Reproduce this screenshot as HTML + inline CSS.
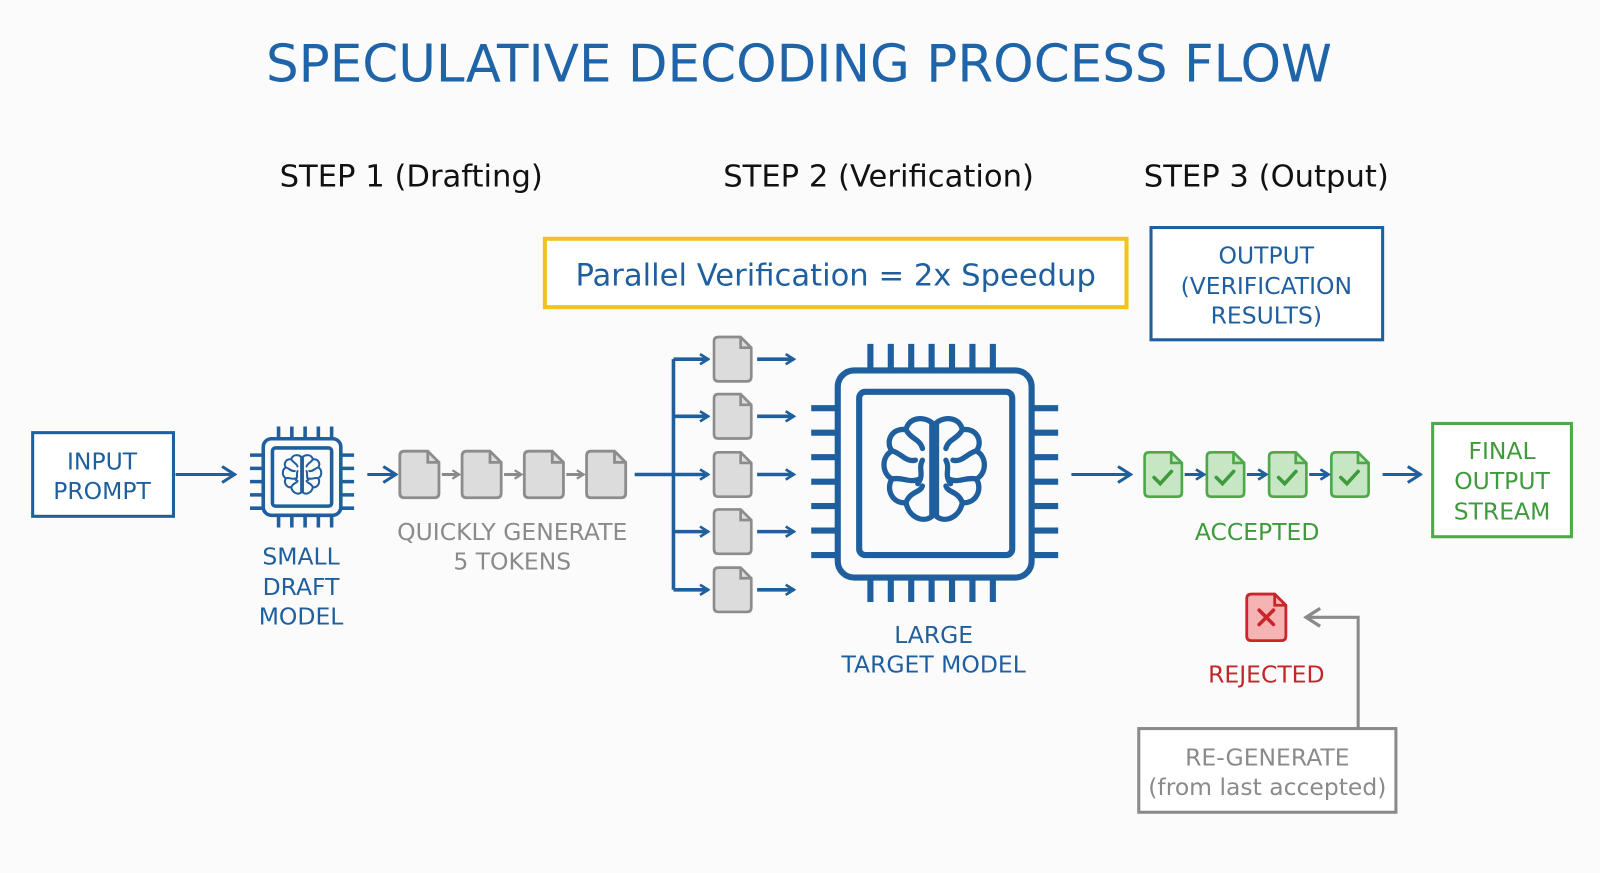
<!DOCTYPE html>
<html><head><meta charset="utf-8"><style>
html,body{margin:0;padding:0;background:#fbfbfb;}
svg{display:block;}
text{font-family:"DejaVu Sans","Liberation Sans",sans-serif;}
</style></head><body>
<svg width="1600" height="873" viewBox="0 0 1600 873" xmlns="http://www.w3.org/2000/svg">
<defs>
<marker id="ab" viewBox="0 0 12 12" refX="10" refY="6" markerWidth="12" markerHeight="12" markerUnits="userSpaceOnUse" orient="auto"><path d="M2,1 L10,6 L2,11" fill="none" stroke="#1f5f9e" stroke-width="2.6"/></marker>
<marker id="abL" viewBox="0 0 16 16" refX="14" refY="8" markerWidth="18" markerHeight="18" markerUnits="userSpaceOnUse" orient="auto"><path d="M3,1 L14,8 L3,15" fill="none" stroke="#1f5f9e" stroke-width="2.6"/></marker>
<marker id="ag" viewBox="0 0 12 12" refX="10" refY="6" markerWidth="10" markerHeight="10" markerUnits="userSpaceOnUse" orient="auto"><path d="M2,1 L10,6 L2,11" fill="none" stroke="#8a8a8a" stroke-width="2.6"/></marker>
<marker id="agL" viewBox="0 0 16 16" refX="14" refY="8" markerWidth="20" markerHeight="20" markerUnits="userSpaceOnUse" orient="auto"><path d="M3,1 L14,8 L3,15" fill="none" stroke="#8a8a8a" stroke-width="2.6"/></marker>
<symbol id="doc" viewBox="-2 -2 46 54" overflow="visible">
<path d="M5,0 H30 L42,12 V45 Q42,50 37,50 H5 Q0,50 0,45 V5 Q0,0 5,0 Z"/>
<path d="M30,0 V12 H42" fill="none"/>
</symbol>
<symbol id="brain" viewBox="0 0 100 100" overflow="visible">
<g fill="none" stroke-linecap="round" stroke-linejoin="round">
<path d="M48,8 C40,2 28,4 26,14 C14,12 8,24 14,32 C4,38 6,52 14,56 C8,66 16,78 26,76 C28,88 40,94 48,88 Z"/>
<path d="M52,8 C60,2 72,4 74,14 C86,12 92,24 86,32 C96,38 94,52 86,56 C92,66 84,78 74,76 C72,88 60,94 52,88 Z"/>
<path d="M26,14 C30,22 38,22 40,30"/><path d="M14,32 C22,34 26,42 34,40"/><path d="M14,56 C24,54 28,60 38,56"/><path d="M26,76 C30,66 38,68 40,62"/><path d="M40,40 C36,48 42,52 36,60"/>
<path d="M74,14 C70,22 62,22 60,30"/><path d="M86,32 C78,34 74,42 66,40"/><path d="M86,56 C76,54 72,60 62,56"/><path d="M74,76 C70,66 62,68 60,62"/><path d="M60,40 C64,48 58,52 64,60"/>
</g>
</symbol>
</defs>
<g transform="scale(1.0204)">
<text x="783" y="80" text-anchor="middle" font-size="50.5" fill="#1f64a8">SPECULATIVE DECODING PROCESS FLOW</text>
<text x="403" y="183" text-anchor="middle" font-size="30" fill="#111">STEP 1 (Drafting)</text>
<text x="861" y="183" text-anchor="middle" font-size="30" fill="#111">STEP 2 (Verification)</text>
<text x="1241" y="183" text-anchor="middle" font-size="30" fill="#111">STEP 3 (Output)</text>

<rect x="534" y="234" width="570" height="67" fill="#fff" stroke="#f2c31e" stroke-width="4"/>
<text x="819" y="280" text-anchor="middle" font-size="30" fill="#1f5f9e">Parallel Verification = 2x Speedup</text>

<rect x="1128" y="223" width="227" height="110" fill="#fff" stroke="#1f5f9e" stroke-width="3"/>
<g font-size="23" fill="#1f5f9e" text-anchor="middle"><text x="1241" y="258">OUTPUT</text><text x="1241" y="288">(VERIFICATION</text><text x="1241" y="317">RESULTS)</text></g>

<rect x="32" y="424" width="138" height="82" fill="#fff" stroke="#1f5f9e" stroke-width="3"/>
<g font-size="23" fill="#1f5f9e" text-anchor="middle"><text x="100" y="460">INPUT</text><text x="100" y="489">PROMPT</text></g>
<line x1="172" y1="465" x2="230" y2="465" stroke="#1f5f9e" stroke-width="3" marker-end="url(#abL)"/>

<g stroke="#1f5f9e" stroke-width="3.5" fill="none">
<rect x="258" y="430" width="76" height="75" rx="8"/>
<rect x="267" y="439" width="58" height="57" rx="3"/>
<path d="M273,418V430M286,418V430M299,418V430M312,418V430M325,418V430"/>
<path d="M273,505V517M286,505V517M299,505V517M312,505V517M325,505V517"/>
<path d="M245,446H258M245,459H258M245,472H258M245,485H258M245,498H258"/>
<path d="M334,446H347M334,459H347M334,472H347M334,485H347M334,498H347"/>
</g>
<use href="#brain" x="274" y="444" width="44" height="44" stroke="#1f5f9e" stroke-width="4.5"/>
<g font-size="23" fill="#1f5f9e" text-anchor="middle"><text x="295" y="553">SMALL</text><text x="295" y="583">DRAFT</text><text x="295" y="612">MODEL</text></g>
<line x1="360" y1="465" x2="388" y2="465" stroke="#1f5f9e" stroke-width="3" marker-end="url(#abL)"/>

<g fill="#dcdcdc" stroke="#8c8c8c" stroke-width="3">
<use href="#doc" x="390" y="440" width="42" height="50"/>
<use href="#doc" x="451" y="440" width="42" height="50"/>
<use href="#doc" x="512" y="440" width="42" height="50"/>
<use href="#doc" x="573" y="440" width="42" height="50"/>
</g>
<g stroke="#8a8a8a" stroke-width="3"><line x1="433" y1="465" x2="450" y2="465" marker-end="url(#ag)"/><line x1="494" y1="465" x2="511" y2="465" marker-end="url(#ag)"/><line x1="555" y1="465" x2="572" y2="465" marker-end="url(#ag)"/></g>
<g font-size="23" fill="#8a8a8a" text-anchor="middle"><text x="502" y="529">QUICKLY GENERATE</text><text x="502" y="558">5 TOKENS</text></g>

<g stroke="#1f5f9e" stroke-width="3.5" fill="none">
<line x1="622" y1="465" x2="660" y2="465"/>
<line x1="660" y1="352" x2="660" y2="578"/>
<line x1="660" y1="352" x2="694" y2="352" marker-end="url(#ab)"/>
<line x1="660" y1="408" x2="694" y2="408" marker-end="url(#ab)"/>
<line x1="660" y1="465" x2="694" y2="465" marker-end="url(#ab)"/>
<line x1="660" y1="521" x2="694" y2="521" marker-end="url(#ab)"/>
<line x1="660" y1="578" x2="694" y2="578" marker-end="url(#ab)"/>
<line x1="742" y1="352" x2="778" y2="352" marker-end="url(#ab)"/>
<line x1="742" y1="408" x2="778" y2="408" marker-end="url(#ab)"/>
<line x1="742" y1="465" x2="778" y2="465" marker-end="url(#ab)"/>
<line x1="742" y1="521" x2="778" y2="521" marker-end="url(#ab)"/>
<line x1="742" y1="578" x2="778" y2="578" marker-end="url(#ab)"/>
</g>
<g fill="#dcdcdc" stroke="#8c8c8c" stroke-width="3">
<use href="#doc" x="698" y="328" width="40" height="48"/>
<use href="#doc" x="698" y="384" width="40" height="48"/>
<use href="#doc" x="698" y="441" width="40" height="48"/>
<use href="#doc" x="698" y="497" width="40" height="48"/>
<use href="#doc" x="698" y="554" width="40" height="48"/>
</g>

<g stroke="#1f5f9e" stroke-width="6" fill="none">
<rect x="821" y="363" width="190" height="203" rx="16"/>
<rect x="842" y="384" width="150" height="160" rx="6"/>
<path d="M853,337V363M873,337V363M893,337V363M913,337V363M933,337V363M953,337V363M973,337V363"/>
<path d="M853,566V590M873,566V590M893,566V590M913,566V590M933,566V590M953,566V590M973,566V590"/>
<path d="M795,400H821M795,424H821M795,448H821M795,472H821M795,496H821M795,520H821M795,544H821"/>
<path d="M1011,400H1037M1011,424H1037M1011,448H1037M1011,472H1037M1011,496H1037M1011,520H1037M1011,544H1037"/>
</g>
<use href="#brain" x="858" y="405" width="115" height="115" stroke="#1f5f9e" stroke-width="4.5"/>
<g font-size="23" fill="#1f5f9e" text-anchor="middle"><text x="915" y="630">LARGE</text><text x="915" y="659">TARGET MODEL</text></g>
<line x1="1050" y1="465" x2="1108" y2="465" stroke="#1f5f9e" stroke-width="3" marker-end="url(#abL)"/>

<g fill="#c6e6c4" stroke="#4ea84a" stroke-width="3">
<use href="#doc" x="1120" y="440" width="40" height="50"/>
<use href="#doc" x="1181" y="440" width="40" height="50"/>
<use href="#doc" x="1242" y="440" width="40" height="50"/>
<use href="#doc" x="1303" y="440" width="40" height="50"/>
</g>
<g fill="none" stroke="#3f9a3c" stroke-width="3.5" stroke-linecap="round"><path d="M1131,468l6,6l11,-12M1192,468l6,6l11,-12M1253,468l6,6l11,-12M1314,468l6,6l11,-12"/></g>
<g stroke="#1f5f9e" stroke-width="3"><line x1="1161" y1="465" x2="1180" y2="465" marker-end="url(#ab)"/><line x1="1222" y1="465" x2="1241" y2="465" marker-end="url(#ab)"/><line x1="1283" y1="465" x2="1302" y2="465" marker-end="url(#ab)"/></g>
<text x="1232" y="529" text-anchor="middle" font-size="23" fill="#3f9a3c">ACCEPTED</text>
<line x1="1355" y1="465" x2="1392" y2="465" stroke="#1f5f9e" stroke-width="3" marker-end="url(#abL)"/>
<rect x="1404" y="415" width="136" height="111" fill="#fff" stroke="#4ea84a" stroke-width="3"/>
<g font-size="23" fill="#3f9a3c" text-anchor="middle"><text x="1472" y="450">FINAL</text><text x="1472" y="479">OUTPUT</text><text x="1472" y="509">STREAM</text></g>

<use href="#doc" x="1220" y="580" width="42" height="50" fill="#f5b3b3" stroke="#c8262b" stroke-width="3"/>
<path d="M1234,598l14,14M1248,598l-14,14" stroke="#c8262b" stroke-width="3.5" stroke-linecap="round"/>
<text x="1241" y="669" text-anchor="middle" font-size="23" fill="#c2252a">REJECTED</text>
<polyline points="1331,713 1331,605 1280,605" fill="none" stroke="#8a8a8a" stroke-width="3" marker-end="url(#agL)"/>
<rect x="1116" y="714" width="252" height="82" fill="#fff" stroke="#8a8a8a" stroke-width="3"/>
<g font-size="23" fill="#8a8a8a" text-anchor="middle"><text x="1242" y="750">RE-GENERATE</text><text x="1242" y="779">(from last accepted)</text></g>
</g>
</svg>
</body></html>
